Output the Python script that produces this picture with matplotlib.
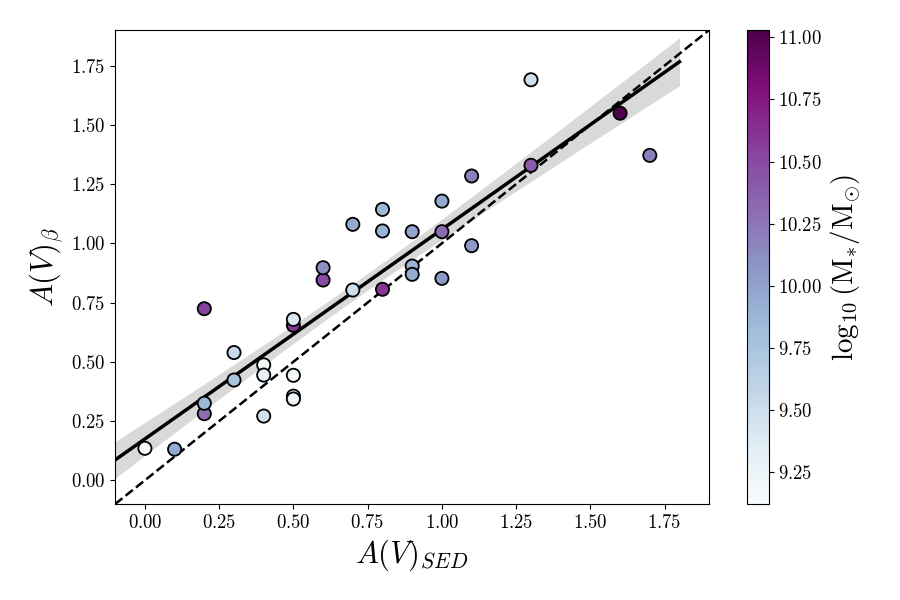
import numpy as np
import matplotlib
matplotlib.use('Agg')
import matplotlib.pyplot as plt

plt.rcParams['font.family'] = 'serif'
plt.rcParams['font.serif'] = ['cmr10', 'DejaVu Serif']
plt.rcParams['mathtext.fontset'] = 'cm'
plt.rcParams['axes.formatter.use_mathtext'] = True

# A(V) from SED fitting, A(V) from beta slope, log stellar mass
av_sed = [0.0, 0.1, 0.2, 0.2, 0.2, 0.3, 0.3, 0.4, 0.4, 0.4,
          0.5, 0.5, 0.5, 0.5, 0.5, 0.6, 0.6, 0.7, 0.7, 0.8,
          0.8, 0.8, 0.9, 0.9, 0.9, 1.0, 1.0, 1.0, 1.1, 1.1,
          1.3, 1.3, 1.6, 1.7]
av_beta = [0.135, 0.131, 0.724, 0.281, 0.325, 0.539, 0.423, 0.487, 0.444, 0.271,
           0.654, 0.679, 0.443, 0.355, 0.343, 0.845, 0.897, 1.08, 0.803, 1.143,
           1.052, 0.806, 1.049, 0.904, 0.869, 1.178, 1.049, 0.852, 1.284, 0.99,
           1.69, 1.329, 1.549, 1.371]
log_mass = [9.12, 9.95, 10.55, 10.3, 9.85, 9.55, 9.75, 9.15, 9.3, 9.45,
            10.6, 9.4, 9.15, 9.2, 9.2, 10.5, 10.1, 9.95, 9.5, 9.85,
            9.9, 10.6, 10.0, 9.9, 9.95, 9.95, 10.3, 10.05, 10.2, 10.05,
            9.5, 10.4, 11.03, 10.2]

x = np.array(av_sed)
y = np.array(av_beta)

fig = plt.figure(figsize=(9, 6), dpi=100)
ax = fig.add_axes([0.128, 0.16, 0.66, 0.79])
cax = fig.add_axes([0.83, 0.16, 0.024, 0.79])

# linear fit with confidence band
slope, icpt = np.polyfit(x, y, 1)
xf = np.linspace(-0.1, 1.8, 200)
yf = slope * xf + icpt
n = len(x)
resid = y - (slope * x + icpt)
s = np.sqrt(np.sum(resid**2) / (n - 2))
sxx = np.sum((x - x.mean())**2)
ci = 1.15 * s * np.sqrt(1 / n + (xf - x.mean())**2 / sxx)
ax.fill_between(xf, yf - ci, yf + ci, color='0.85', lw=0, zorder=1)
ax.plot(xf, yf, color='black', lw=2.5, zorder=2)

ax.plot([-0.1, 1.9], [-0.1, 1.9], color='black', ls='--', lw=1.8, zorder=3)

sc = ax.scatter(x, y, c=log_mass, cmap='BuPu', s=90, edgecolors='black',
                linewidths=1.3, zorder=4)

ax.set_xlim(-0.1, 1.9)
ax.set_ylim(-0.1, 1.9)
ax.set_xticks(np.arange(0, 1.76, 0.25))
ax.set_yticks(np.arange(0, 1.76, 0.25))
ax.tick_params(labelsize=13.5)
ax.set_xlabel(r'$A(V)_{SED}$', fontsize=22)
ax.set_ylabel(r'$A(V)_{\beta}$', fontsize=22)

cb = fig.colorbar(sc, cax=cax)
cb.ax.tick_params(labelsize=13.5)
cb.set_label(r'$\log_{10}(\mathrm{M_{*}/M_{\odot}})$', fontsize=21)

fig.savefig('out.png', dpi=100)
